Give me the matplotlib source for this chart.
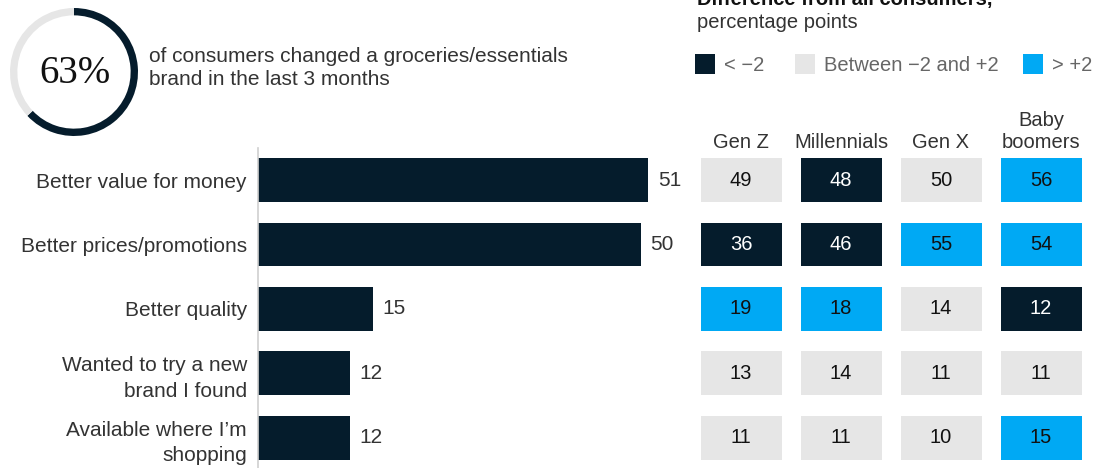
import numpy as np
import matplotlib
matplotlib.use("Agg")
import matplotlib.pyplot as plt
from matplotlib.patches import Rectangle

plt.rcParams['font.family'] = ['Liberation Sans', 'DejaVu Sans']

# Reasons for switching brand, share of all consumers (%)
reasons = ['Better value for money', 'Better prices/promotions', 'Better quality',
           'Wanted to try a new\nbrand I found', 'Available where I\u2019m\nshopping']
all_consumers = [51, 50, 15, 12, 12]

# Same question broken down by generation (%)
generations = ['Gen Z', 'Millennials', 'Gen X', 'Baby\nboomers']
gen_z = [49, 36, 19, 13, 11]
millennials = [48, 46, 18, 14, 11]
gen_x = [50, 55, 14, 11, 10]
boomers = [56, 54, 12, 11, 15]

share_changed = 63

NAVY = '#051C2C'
GREY = '#E6E6E6'
CYAN = '#00A9F4'
AXIS = '#CFCFCF'
TXT = '#333333'

W, H = 1099, 468
fig = plt.figure(figsize=(W / 100, H / 100), dpi=100)


def box(x0, y0, x1, y1):
    # pixel box (top-left origin) -> figure fraction rect
    return [x0 / W, 1 - y1 / H, (x1 - x0) / W, (y1 - y0) / H]


def ftext(x, y, s, **kw):
    fig.text(x / W, 1 - y / H, s, **kw)


# donut with headline figure
ax_d = fig.add_axes(box(10, 8, 138, 136))
ax_d.pie([share_changed, 100 - share_changed], colors=[NAVY, GREY], startangle=90,
         counterclock=False, radius=1, wedgeprops=dict(width=0.115, linewidth=0))
ax_d.set_xlim(-1, 1)
ax_d.set_ylim(-1, 1)
ax_d.text(0.02, -0.02, f'{share_changed}%', ha='center', va='center', fontsize=28,
          family=['Liberation Serif', 'DejaVu Serif'], color='#111111')
ftext(149, 68, 'of consumers changed a groceries/essentials\nbrand in the last 3 months',
      fontsize=15, color=TXT, va='center', linespacing=1.3)

# horizontal bars for all consumers
rows = np.arange(len(reasons))
bar_h = 0.68
ylim = (4.47, -0.5)

ax = fig.add_axes(box(258, 148, 658, 468))
bars = ax.barh(rows, all_consumers, height=bar_h, color=NAVY)
ax.bar_label(bars, padding=7, fontsize=15, color=TXT)
ax.set_xlim(0, 400 / 7.65)
ax.set_ylim(*ylim)
ax.set_yticks(rows, reasons)
ax.tick_params(axis='y', length=0, pad=8, labelsize=15, labelcolor=TXT)
for lab in ax.get_yticklabels():
    lab.set_linespacing(1.42)
ax.set_xticks([])
for side in ['top', 'right', 'bottom']:
    ax.spines[side].set_visible(False)
ax.spines['left'].set_color(AXIS)
ax.spines['left'].set_linewidth(1.2)
ax.patch.set_alpha(0)

# heatmap of generation values coloured by difference from all consumers
table = np.array([gen_z, millennials, gen_x, boomers])
ax_h = fig.add_axes(box(691, 148, 1091, 468))
ax_h.set_xlim(-0.5, 3.5)
ax_h.set_ylim(*ylim)
ax_h.axis('off')
for c in range(table.shape[0]):
    diff = table[c] - np.array(all_consumers)
    colors = [NAVY if d < -2 else CYAN if d > 2 else GREY for d in diff]
    ax_h.bar(np.full(len(rows), c), bar_h, bottom=rows - bar_h / 2, width=0.81,
             color=colors, linewidth=0)
    for r, v in zip(rows, table[c]):
        ax_h.text(c, r, str(v), ha='center', va='center', fontsize=14.5,
                  color='white' if diff[r] < -2 else '#111111')
    ax_h.text(c, -0.44, generations[c], ha='center', va='bottom', fontsize=14.5,
              color=TXT, linespacing=1.2)

# legend and heading
ftext(697, 5, 'Difference from all consumers,', fontsize=14.5, weight='bold',
      color='#111111', va='baseline')
ftext(697, 22, 'percentage points', fontsize=14.5, color=TXT, va='center')
legend_items = [(695, NAVY, '< \u22122'), (795, GREY, 'Between \u22122 and +2'),
                (1023, CYAN, '> +2')]
for x, col, lab in legend_items:
    fig.add_artist(Rectangle((x / W, 1 - 74 / H), 20 / W, 20 / H,
                             transform=fig.transFigure, color=col, lw=0))
    ftext(x + 29, 65.5, lab, fontsize=14.5, color='#666666', va='center')

fig.savefig('out.png', dpi=100)
